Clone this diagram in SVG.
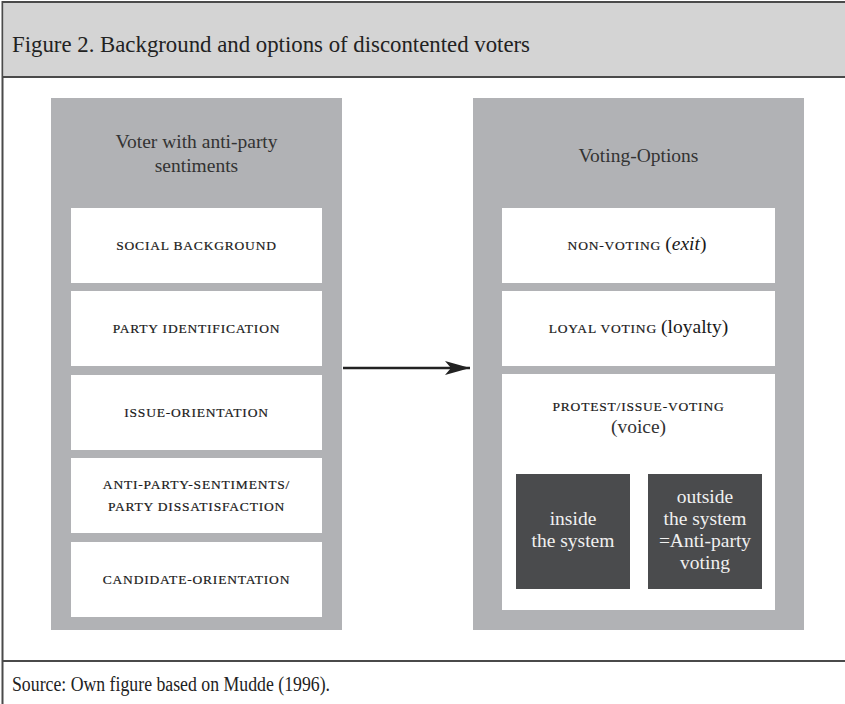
<svg xmlns="http://www.w3.org/2000/svg" width="845" height="704" viewBox="0 0 845 704">
<defs>
<style>
.frame{fill:#ffffff;stroke:#4a4a4a;stroke-width:2}
.band{fill:#d4d4d4}
.rule{stroke:#4a4a4a;stroke-width:2}
.panel{fill:#b1b2b5}
.box{fill:#ffffff}
.dark{fill:#4a4b4d}
.title{font-family:"Liberation Serif",serif;font-size:23.5px;fill:#222}
.ptitle{font-family:"Liberation Serif",serif;font-size:19.5px;fill:#333;text-anchor:middle}
.sc{font-family:"Liberation Serif",serif;font-size:13.5px;letter-spacing:0.8px;fill:#1a1a1a;stroke:#1a1a1a;stroke-width:0.2px;text-anchor:middle}
.rg{font-size:19.5px;letter-spacing:0;stroke:none}
.it{font-style:italic}
.wt{font-family:"Liberation Serif",serif;font-size:19.5px;fill:#f0f0f0;text-anchor:middle}
.src{font-family:"Liberation Serif",serif;font-size:20px;fill:#222}
.conn{stroke:#222;stroke-width:2.5;fill:none}
</style>
<marker id="ah" markerUnits="userSpaceOnUse" viewBox="0 0 26 16" refX="25" refY="8" markerWidth="26" markerHeight="16" orient="auto">
<path d="M0,1 L25,8 L0,15 L6,8 z" fill="#222"/>
</marker>
</defs>
<rect x="2.5" y="2" width="850" height="710" class="frame"/>
<rect x="3.5" y="3" width="842" height="73" class="band"/>
<line x1="2.5" y1="77" x2="845" y2="77" class="rule"/>
<line x1="2.5" y1="661" x2="845" y2="661" class="rule"/>
<text x="12" y="52" class="title" textLength="518" lengthAdjust="spacingAndGlyphs">Figure 2. Background and options of discontented voters</text>
<text x="12" y="691" class="src" textLength="318" lengthAdjust="spacingAndGlyphs">Source: Own figure based on Mudde (1996).</text>

<g id="left-panel">
<rect x="51" y="98" width="291" height="532" class="panel"/>
<text x="196.5" y="148" class="ptitle">Voter with anti-party</text>
<text x="196.5" y="172" class="ptitle">sentiments</text>
</g>
<g id="social-background">
<rect x="71" y="208" width="251" height="75" class="box"/>
<text x="196.5" y="250" class="sc">SOCIAL BACKGROUND</text>
</g>
<g id="party-identification">
<rect x="71" y="291" width="251" height="75" class="box"/>
<text x="196.5" y="333" class="sc">PARTY IDENTIFICATION</text>
</g>
<g id="issue-orientation">
<rect x="71" y="375" width="251" height="75" class="box"/>
<text x="196.5" y="417" class="sc">ISSUE-ORIENTATION</text>
</g>
<g id="anti-party-sentiments">
<rect x="71" y="458" width="251" height="75" class="box"/>
<text x="196.5" y="488.5" class="sc">ANTI-PARTY-SENTIMENTS/</text>
<text x="196.5" y="511" class="sc">PARTY DISSATISFACTION</text>
</g>
<g id="candidate-orientation">
<rect x="71" y="542" width="251" height="75" class="box"/>
<text x="196.5" y="584" class="sc">CANDIDATE-ORIENTATION</text>
</g>

<g id="right-panel">
<rect x="473" y="98" width="331" height="532" class="panel"/>
<text x="638.5" y="162" class="ptitle">Voting-Options</text>
</g>
<g id="non-voting">
<rect x="502" y="208" width="273" height="75" class="box"/>
<text x="637" y="250" class="sc">NON-VOTING <tspan class="rg">(</tspan><tspan class="rg it">exit</tspan><tspan class="rg">)</tspan></text>
</g>
<g id="loyal-voting">
<rect x="502" y="291" width="273" height="75" class="box"/>
<text x="638.5" y="332.5" class="sc">LOYAL VOTING <tspan class="rg">(loyalty)</tspan></text>
</g>
<g id="protest-voting">
<rect x="502" y="374" width="273" height="236" class="box"/>
<text x="638.5" y="410.5" class="sc">PROTEST/ISSUE-VOTING</text>
<text x="638.5" y="432.5" class="ptitle">(voice)</text>
</g>
<g id="inside-system">
<rect x="516" y="474" width="114" height="115" class="dark"/>
<text x="573" y="525" class="wt">inside</text>
<text x="573" y="547" class="wt">the system</text>
</g>
<g id="outside-system">
<rect x="648" y="474" width="114" height="115" class="dark"/>
<text x="705" y="503" class="wt">outside</text>
<text x="705" y="525" class="wt">the system</text>
<text x="705" y="547" class="wt">=Anti-party</text>
<text x="705" y="569" class="wt">voting</text>
</g>

<g id="connectors">
<line x1="343" y1="368" x2="470" y2="368" class="conn" marker-end="url(#ah)"/>
</g>
</svg>
